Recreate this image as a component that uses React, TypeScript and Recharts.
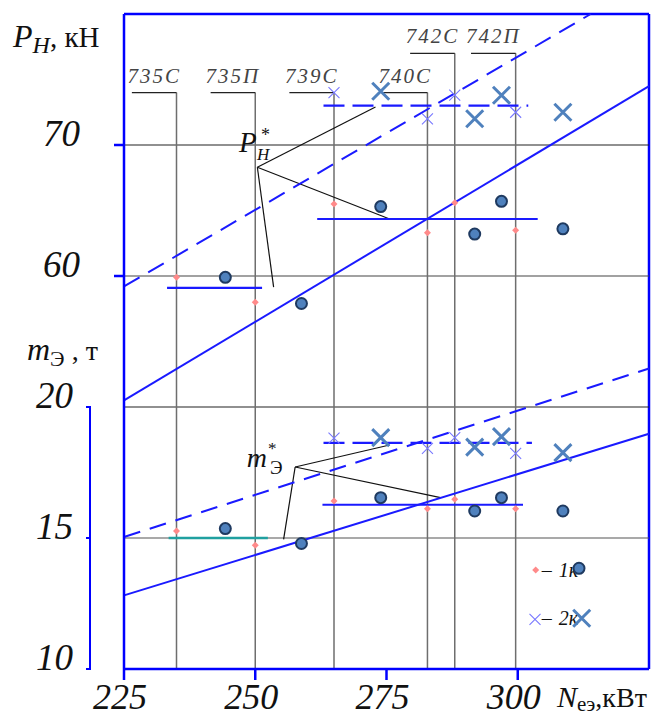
import React from 'react';
import { ComposedChart, XAxis, YAxis, Scatter, ReferenceLine } from 'recharts';

// N_eэ, кВт for the two groups of points
const nSmall = [235, 250, 265, 282.8, 288, 299.6];
const nBig = [244.3, 258.8, 273.9, 291.8, 296.9, 308.6];

// P_H, кН
const p1kSmall = [59.9, 58.0, 65.5, 63.3, 65.6, 63.5];
const p1kBig = [59.9, 57.9, 65.3, 63.2, 65.7, 63.6];
const p2kSmall = [74.0, 72.0, 73.8, 72.5];
const p2kBig = [74.1, 72.0, 73.8, 72.5];

// m_э, т
const m1kSmall = [15.27, 14.72, 16.41, 16.12, 16.48, 16.12];
const m1kBig = [15.36, 14.79, 16.54, 16.03, 16.54, 16.03];
const m2kSmall = [18.81, 18.42, 18.83, 18.23];
const m2kBig = [18.83, 18.47, 18.87, 18.26];

const engines = ['735С', '735П', '739С', '740С', '742С', '742П'];
const engineLevel = [74, 74, 74, 74, 77, 77];

const xTicks = [225, 250, 275, 300];
const pTicks = [60, 70];
const mTicks = [10, 15, 20];

// lines as [n1, v1, n2, v2]
const pTrend = [225, 50.5, 325, 74.5];
const pTrendDash = [225, 59.2, 313.9, 80];
const pStarLeft = [233.2, 59.1, 251.3, 59.1];
const pStarRight = [261.8, 64.35, 303.8, 64.35];
const pStarDash = [263, 73.0, 302, 73.0];
const mTrend = [225, 12.81, 325, 18.98];
const mTrendDash = [225, 15.04, 325, 21.47];
const mStarLeft = [233.5, 15.0, 252.4, 15.0];
const mStarRight = [262.8, 16.27, 301, 16.27];
const mStarDash = [263, 18.63, 302.7, 18.63];

// leader lines for the P*_H and m*_э labels
const pLeaderFrom = [250.4, 68.3];
const pLeaderTo = [[272.9, 72.9], [275.6, 64.35], [253.5, 59.15]];
const mLeaderFrom = [257.6, 17.71];
const mLeaderTo = [[275.6, 18.55], [285.3, 16.54], [255.4, 14.95]];

// P (50..80) sits above m (10..20) on one shared scale
const fromP = (p: number) => 20 + (p - 50) / 2;
const fromM = (m: number) => m;
const yTicks = [...mTicks.map(fromM), ...pTicks.map(fromP)];

const FONT = "'Liberation Serif', 'Times New Roman', serif";
const BLUE = '#0000ff';
const LINE = '#1a1aff';

const pts = (ns: number[], vs: number[], f: (v: number) => number) =>
  vs.map((v, i) => ({ x: ns[i], y: f(v) }));

const seg = (l: number[], f: (v: number) => number) => [
  { x: l[0], y: f(l[1]) },
  { x: l[2], y: f(l[3]) },
];

const Diamond = ({ cx, cy }: any) => (
  <path d={`M${cx},${cy - 3.5}L${cx + 3.5},${cy}L${cx},${cy + 3.5}L${cx - 3.5},${cy}Z`} fill="#ff8a8a" />
);
const BigDot = ({ cx, cy }: any) => (
  <circle cx={cx} cy={cy} r={5.5} fill="#4f81bd" stroke="#1f3a60" strokeWidth={2} />
);
const SmallX = ({ cx, cy }: any) => (
  <path d={`M${cx - 5.5},${cy - 5.5}L${cx + 5.5},${cy + 5.5}M${cx - 5.5},${cy + 5.5}L${cx + 5.5},${cy - 5.5}`} stroke="#7878ff" strokeWidth={1.1} />
);
const BigX = ({ cx, cy }: any) => (
  <path d={`M${cx - 8.5},${cy - 8.5}L${cx + 8.5},${cy + 8.5}M${cx - 8.5},${cy + 8.5}L${cx + 8.5},${cy - 8.5}`} stroke="#4f81bd" strokeWidth={3} />
);

const XTick = (props: any) => {
  const { x, payload } = props;
  return (
    <text x={x - 4} y={701} textAnchor="middle" fontFamily={FONT} fontStyle="italic" fontSize={36} fill="#111">
      {payload.value}
    </text>
  );
};

const YTick = (props: any) => {
  const { y, payload } = props;
  const v = payload.value;
  if (v > 20) {
    return (
      <g>
        <line x1={106} x2={116} y1={y} y2={y} stroke={BLUE} strokeWidth={2.5} />
        <text x={72} y={y + 1} textAnchor="end" fontFamily={FONT} fontStyle="italic" fontSize={37} fill="#111">
          {(v - 20) * 2 + 50}
        </text>
      </g>
    );
  }
  return (
    <g>
      <line x1={78} x2={83} y1={y} y2={y} stroke={BLUE} strokeWidth={2} />
      {v === 15 && <line x1={82} x2={82} y1={y - 131} y2={y + 131} stroke={BLUE} strokeWidth={2} />}
      <text x={65} y={y + 1} textAnchor="end" fontFamily={FONT} fontStyle="italic" fontSize={37} fill="#111">
        {v}
      </text>
    </g>
  );
};

const engineLabel = (name: string) => (props: any) => {
  const vb = props.viewBox || { x: 0, y: 0, width: 0 };
  return (
    <text x={vb.x + (vb.width || 0) / 2} y={vb.y - 10} textAnchor="middle" fontFamily={FONT} fontStyle="italic" fontSize={21} letterSpacing={2} fill="#444">
      {name}
    </text>
  );
};

const App: React.FC = () => {
  return (
    <div style={{ position: 'relative', width: 653, height: 710 }}>
      <ComposedChart width={653} height={710} margin={{ top: 6, right: 12, bottom: 0, left: 0 }}>
        <XAxis
          type="number"
          dataKey="x"
          domain={[225, 325]}
          ticks={xTicks}
          interval={0}
          height={49}
          stroke={BLUE}
          axisLine={{ stroke: BLUE, strokeWidth: 2.5 }}
          tickLine={{ stroke: BLUE, strokeWidth: 2.5 }}
          tickSize={11}
          tick={XTick}
          allowDataOverflow
        />
        <YAxis
          type="number"
          dataKey="y"
          domain={[10, 35]}
          ticks={yTicks}
          interval={0}
          width={116}
          axisLine={{ stroke: BLUE, strokeWidth: 2.5 }}
          tickLine={false}
          tick={YTick}
          allowDataOverflow
        />

        {/* frame */}
        <ReferenceLine y={35} stroke={BLUE} strokeWidth={2.5} />
        <ReferenceLine x={325} stroke={BLUE} strokeWidth={2.5} />

        {/* grid */}
        <ReferenceLine y={fromP(70)} stroke="#222" strokeWidth={1.2} />
        <ReferenceLine y={fromP(60)} stroke="#444" strokeWidth={1.2} />
        <ReferenceLine y={20} stroke="#222" strokeWidth={1.2} />
        <ReferenceLine y={15} stroke="#555" strokeWidth={1.2} />

        {/* engine verticals */}
        {engines.map((name, i) => (
          <ReferenceLine
            key={'v' + name}
            segment={[{ x: nSmall[i], y: fromP(engineLevel[i]) }, { x: nSmall[i], y: 10 }]}
            stroke="#6e6e6e"
            strokeWidth={1.5}
          />
        ))}
        {engines.map((name, i) => (
          <ReferenceLine
            key={'u' + name}
            segment={[{ x: nSmall[i] - 8.5, y: fromP(engineLevel[i]) }, { x: nSmall[i], y: fromP(engineLevel[i]) }]}
            stroke="#222"
            strokeWidth={1.2}
            label={engineLabel(name)}
          />
        ))}

        {/* leaders */}
        {pLeaderTo.map((p, i) => (
          <ReferenceLine key={'pl' + i} segment={[{ x: pLeaderFrom[0], y: fromP(pLeaderFrom[1]) }, { x: p[0], y: fromP(p[1]) }]} stroke="#111" strokeWidth={1.2} />
        ))}
        {mLeaderTo.map((p, i) => (
          <ReferenceLine key={'ml' + i} segment={[{ x: mLeaderFrom[0], y: mLeaderFrom[1] }, { x: p[0], y: p[1] }]} stroke="#111" strokeWidth={1.2} />
        ))}

        {/* trends */}
        <ReferenceLine segment={seg(pTrend, fromP)} stroke={LINE} strokeWidth={2} />
        <ReferenceLine segment={seg(pTrendDash, fromP)} stroke={LINE} strokeWidth={2} strokeDasharray="18 10" />
        <ReferenceLine segment={seg(pStarLeft, fromP)} stroke={LINE} strokeWidth={2.2} />
        <ReferenceLine segment={seg(pStarRight, fromP)} stroke={LINE} strokeWidth={2.2} />
        <ReferenceLine segment={seg(pStarDash, fromP)} stroke={LINE} strokeWidth={2.2} strokeDasharray="21 8" />
        <ReferenceLine segment={seg(mTrend, fromM)} stroke={LINE} strokeWidth={2} />
        <ReferenceLine segment={seg(mTrendDash, fromM)} stroke={LINE} strokeWidth={2} strokeDasharray="17 10" />
        <ReferenceLine segment={seg(mStarLeft, fromM)} stroke="#20a0a0" strokeWidth={2.6} />
        <ReferenceLine segment={seg(mStarRight, fromM)} stroke={LINE} strokeWidth={2.2} />
        <ReferenceLine segment={seg(mStarDash, fromM)} stroke={LINE} strokeWidth={2.2} strokeDasharray="21 8" />

        {/* points */}
        <Scatter data={pts(nSmall, p1kSmall, fromP)} shape={Diamond} isAnimationActive={false} />
        <Scatter data={pts(nBig, p1kBig, fromP)} shape={BigDot} isAnimationActive={false} />
        <Scatter data={pts(nSmall.slice(2), p2kSmall, fromP)} shape={SmallX} isAnimationActive={false} />
        <Scatter data={pts(nBig.slice(2), p2kBig, fromP)} shape={BigX} isAnimationActive={false} />
        <Scatter data={pts(nSmall, m1kSmall, fromM)} shape={Diamond} isAnimationActive={false} />
        <Scatter data={pts(nBig, m1kBig, fromM)} shape={BigDot} isAnimationActive={false} />
        <Scatter data={pts(nSmall.slice(2), m2kSmall, fromM)} shape={SmallX} isAnimationActive={false} />
        <Scatter data={pts(nBig.slice(2), m2kBig, fromM)} shape={BigX} isAnimationActive={false} />
      </ComposedChart>

      <svg width={653} height={710} style={{ position: 'absolute', left: 0, top: 0, pointerEvents: 'none' }}>
        <g fontFamily={FONT} fill="#111">
          <text x={5} y={39}>
            <tspan fontStyle="italic" fontSize={32}>P</tspan>
            <tspan fontStyle="italic" fontSize={24} dy={6}>H</tspan>
            <tspan fontSize={29} dy={-6}>, кН</tspan>
          </text>
          <text x={19} y={352}>
            <tspan fontStyle="italic" fontSize={32}>m</tspan>
            <tspan fontSize={22} dy={6}>Э</tspan>
            <tspan fontSize={28} dy={-6}> , т</tspan>
          </text>
          <text x={549} y={699}>
            <tspan fontStyle="italic" fontSize={30}>N</tspan>
            <tspan fontSize={21} dy={4}>eэ</tspan>
            <tspan fontSize={28} dy={-4}>,кВт</tspan>
          </text>

          <text>
            <tspan x={231} y={144} fontStyle="italic" fontSize={29}>P</tspan>
            <tspan x={253} y={133} fontSize={18}>*</tspan>
            <tspan x={249} y={152} fontStyle="italic" fontSize={17}>H</tspan>
          </text>

          <text>
            <tspan x={238.7} y={459} fontStyle="italic" fontSize={28}>m</tspan>
            <tspan x={260} y={446} fontSize={17}>*</tspan>
            <tspan x={262} y={466} fontSize={19}>Э</tspan>
          </text>

          <Diamond cx={527.7} cy={562} />
          <text x={533.7} y={569} fontSize={20}>
            <tspan>–</tspan>
            <tspan fontStyle="italic" dx={7}>1к</tspan>
          </text>
          <BigDot cx={571} cy={560.3} />
          <SmallX cx={527} cy={611.3} />
          <text x={533.7} y={617} fontSize={20}>
            <tspan>–</tspan>
            <tspan fontStyle="italic" dx={7}>2к</tspan>
          </text>
          <BigX cx={573.7} cy={610.3} />
        </g>
      </svg>
    </div>
  );
};

export default App;
